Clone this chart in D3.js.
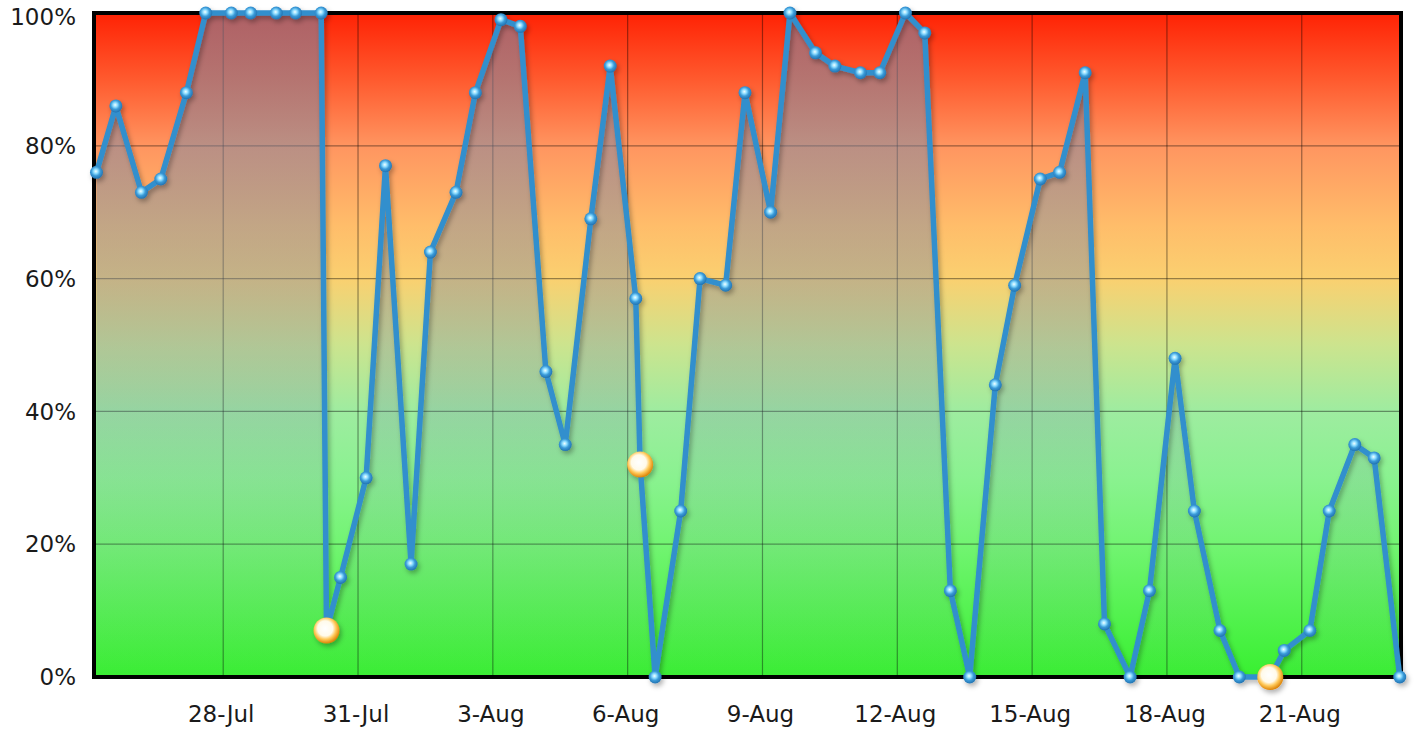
<!DOCTYPE html>
<html>
<head>
<meta charset="utf-8">
<script src="https://d3js.org/d3.v7.min.js"></script>
<style>
  body { margin: 0; background: #fff; }
  text { font-family: "DejaVu Sans", sans-serif; }
</style>
</head>
<body>
<svg id="chart" width="1414" height="730"></svg>
<script>
// readings, two per day (plus the three marked events)
const times = [
  "2012-07-25 04:20", "2012-07-25 14:40", "2012-07-26 04:20", "2012-07-26 14:40",
  "2012-07-27 04:20", "2012-07-27 14:40", "2012-07-28 04:20", "2012-07-28 14:40",
  "2012-07-29 04:20", "2012-07-29 14:40", "2012-07-30 04:20", "2012-07-30 07:10",
  "2012-07-30 14:40", "2012-07-31 04:20", "2012-07-31 14:40", "2012-08-01 04:20",
  "2012-08-01 14:40", "2012-08-02 04:20", "2012-08-02 14:40", "2012-08-03 04:20",
  "2012-08-03 14:40", "2012-08-04 04:20", "2012-08-04 14:40", "2012-08-05 04:20",
  "2012-08-05 14:40", "2012-08-06 04:20", "2012-08-06 06:40", "2012-08-06 14:40",
  "2012-08-07 04:20", "2012-08-07 14:40", "2012-08-08 04:20", "2012-08-08 14:40",
  "2012-08-09 04:20", "2012-08-09 14:40", "2012-08-10 04:20", "2012-08-10 14:40",
  "2012-08-11 04:20", "2012-08-11 14:40", "2012-08-12 04:20", "2012-08-12 14:40",
  "2012-08-13 04:20", "2012-08-13 14:40", "2012-08-14 04:20", "2012-08-14 14:40",
  "2012-08-15 04:20", "2012-08-15 14:40", "2012-08-16 04:20", "2012-08-16 14:40",
  "2012-08-17 04:20", "2012-08-17 14:40", "2012-08-18 04:20", "2012-08-18 14:40",
  "2012-08-19 04:20", "2012-08-19 14:40", "2012-08-20 04:20", "2012-08-20 07:10",
  "2012-08-20 14:40", "2012-08-21 04:20", "2012-08-21 14:40", "2012-08-22 04:20",
  "2012-08-22 14:40", "2012-08-23 04:20"
];
const values = [
  76, 86, 73, 75,
  88, 100, 100, 100,
  100, 100, 100, 7,
  15, 30, 77, 17,
  64, 73, 88, 99,
  98, 46, 35, 69,
  92, 57, 32, 0,
  25, 60, 59, 88,
  70, 100, 94, 92,
  91, 91, 100, 97,
  13, 0, 44, 59,
  75, 76, 91, 8,
  0, 13, 48, 25,
  7, 0, 0, 0,
  4, 7, 25, 35,
  33, 0
];
const events = ["2012-07-30 07:10", "2012-08-06 06:40", "2012-08-20 07:10"];

const xTicks = ["2012-07-28", "2012-07-31", "2012-08-03", "2012-08-06", "2012-08-09",
  "2012-08-12", "2012-08-15", "2012-08-18", "2012-08-21"];
const yTicks = [0, 20, 40, 60, 80, 100];

const parseT = d3.timeParse("%Y-%m-%d %H:%M");
const parseD = d3.timeParse("%Y-%m-%d");

const svg = d3.select("#chart");
const pLeft = 94, pRight = 1401, pTop = 13, pBottom = 677;

const x = d3.scaleTime()
  .domain([parseT("2012-07-25 03:00"), parseT("2012-08-23 05:00")])
  .range([pLeft, pRight]);
const y = d3.scaleLinear().domain([0, 100]).range([pBottom, pTop]);

const data = times.map((t, i) => ({ t: parseT(t), v: values[i], ev: events.includes(t) }));

// defs: background, area overlay, marker fills, shadow
const defs = svg.append("defs");

function addLinear(id, stops) {
  let g = defs.append("linearGradient")
    .attr("id", id)
    .attr("gradientUnits", "userSpaceOnUse")
    .attr("x1", 0).attr("x2", 0)
    .attr("y1", pTop).attr("y2", pBottom);
  stops.forEach(s => g.append("stop").attr("offset", s[0]).attr("stop-color", s[1]).attr("stop-opacity", s[2] == null ? 1 : s[2]));
}
function addRadial(id, stops) {
  let g = defs.append("radialGradient").attr("id", id).attr("cx", "45%").attr("cy", "42%").attr("r", "58%");
  stops.forEach(s => g.append("stop").attr("offset", s[0]).attr("stop-color", s[1]));
}

addLinear("bg", [
  [0, "#ff2204"], [0.1, "#ff5a2e"], [0.2, "#ff9560"], [0.32, "#ffbd6a"],
  [0.4, "#fad070"], [0.5, "#cce48e"], [0.6, "#9eeca0"], [0.7, "#8af290"],
  [0.8, "#72f472"], [1, "#38f030"]
]);
addLinear("areaFill", [
  [0, "#7a8aa6", 0.6], [0.4, "#7a8aa6", 0.42], [0.7, "#7a8aa6", 0.15], [1, "#7a8aa6", 0.03]
]);
addRadial("dot", [[0, "#f2ffff"], [0.3, "#8cdcff"], [0.6, "#3a9ad8"], [1, "#2272b0"]]);
addRadial("evDot", [[0, "#ffffff"], [0.5, "#fffaea"], [0.72, "#ffc95a"], [1, "#dc8206"]]);

let shadow = defs.append("filter").attr("id", "shadow")
  .attr("x", "-10%").attr("y", "-10%").attr("width", "120%").attr("height", "120%");
shadow.append("feDropShadow")
  .attr("dx", 2).attr("dy", 3).attr("stdDeviation", 2.5)
  .attr("flood-color", "#000").attr("flood-opacity", 0.3);

// background
svg.append("rect")
  .attr("x", pLeft).attr("y", pTop)
  .attr("width", pRight - pLeft).attr("height", pBottom - pTop)
  .attr("fill", "url(#bg)");

// grid
let grid = svg.append("g").attr("stroke", "#000").attr("stroke-opacity", 0.4).attr("stroke-width", 1.2);
yTicks.filter(v => v > 0 && v < 100).forEach(v => {
  grid.append("line").attr("x1", pLeft).attr("x2", pRight).attr("y1", y(v)).attr("y2", y(v));
});
xTicks.forEach(d => {
  grid.append("line").attr("x1", x(parseD(d))).attr("x2", x(parseD(d))).attr("y1", pTop).attr("y2", pBottom);
});

// area under the line
const area = d3.area().x(d => x(d.t)).y0(y(0)).y1(d => y(d.v));
svg.append("path")
  .datum(data)
  .attr("d", area)
  .attr("fill", "url(#areaFill)");

// frame
svg.append("rect")
  .attr("x", pLeft).attr("y", pTop)
  .attr("width", pRight - pLeft).attr("height", pBottom - pTop)
  .attr("fill", "none")
  .attr("stroke", "#000")
  .attr("stroke-width", 4);

// axis labels
let yAxis = svg.append("g");
yTicks.forEach(v => {
  yAxis.append("text")
    .attr("x", 76)
    .attr("y", v == 100 ? y(v) + 4 : y(v))
    .attr("dy", "0.36em")
    .attr("text-anchor", "end")
    .attr("font-size", 23)
    .attr("fill", "#1a1a1a")
    .text(v + "%");
});
const fmt = d3.timeFormat("%-d-%b");
let xAxis = svg.append("g");
xTicks.forEach(d => {
  xAxis.append("text")
    .attr("x", x(parseD(d)) - 2)
    .attr("y", 722)
    .attr("text-anchor", "middle")
    .attr("font-size", 23)
    .attr("fill", "#1a1a1a")
    .text(fmt(parseD(d)));
});

// line + markers
let series = svg.append("g").attr("filter", "url(#shadow)");
const line = d3.line().x(d => x(d.t)).y(d => y(d.v));
series.append("path")
  .datum(data)
  .attr("d", line)
  .attr("fill", "none")
  .attr("stroke", "#318fcd")
  .attr("stroke-width", 5.5)
  .attr("stroke-linejoin", "round");

series.selectAll("circle.dot")
  .data(data.filter(d => !d.ev))
  .join("circle")
  .attr("class", "dot")
  .attr("cx", d => x(d.t))
  .attr("cy", d => y(d.v))
  .attr("r", 6.5)
  .attr("fill", "url(#dot)");

series.selectAll("circle.ev")
  .data(data.filter(d => d.ev))
  .join("circle")
  .attr("class", "ev")
  .attr("cx", d => x(d.t))
  .attr("cy", d => y(d.v))
  .attr("r", 13)
  .attr("fill", "url(#evDot)");
</script>
</body>
</html>
